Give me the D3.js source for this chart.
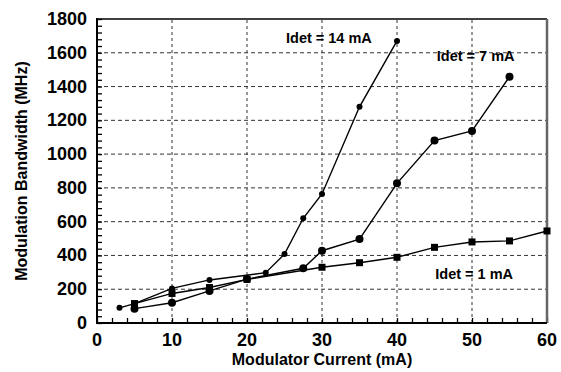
<!DOCTYPE html>
<html>
<head>
<meta charset="utf-8">
<script src="https://cdn.jsdelivr.net/npm/d3@7"></script>
<style>
  body { margin: 0; background: #fff; }
  svg { display: block; font-family: "Liberation Sans", Arial, sans-serif; }
  .tick-label { font-weight: bold; font-size: 18px; }
  .axis-title { font-weight: bold; font-size: 16px; }
  .series-label { font-weight: bold; font-size: 14.5px; }
</style>
</head>
<body>
<svg id="chart" width="561" height="372"></svg>
<script>
// Valori
const cur14 = [3, 5, 10, 15, 22.5, 25, 27.5, 30, 35, 40];
const bw14  = [90, 115, 205, 255, 298, 408, 620, 764, 1280, 1670];

const cur7  = [5, 10, 15, 20, 27.5, 30, 35, 40, 45, 50, 55];
const bw7   = [85, 120, 190, 260, 324, 428, 497, 827, 1080, 1137, 1458];

const cur1  = [5, 10, 15, 20, 30, 35, 40, 45, 50, 55, 60];
const bw1   = [115, 175, 210, 258, 330, 357, 389, 448, 480, 486, 545];

const xTicks = [0, 10, 20, 30, 40, 50, 60];
const yTicks = [0, 200, 400, 600, 800, 1000, 1200, 1400, 1600, 1800];

const svg = d3.select("#chart");

const L = 97, R = 547, T = 19, B = 323;

const x = d3.scaleLinear().domain([0, 60]).range([L, R]);
const y = d3.scaleLinear().domain([0, 1800]).range([B, T]);

/* ── GRIGLIA ───────────────────────────── */
const grid = svg.append("g");
grid.selectAll(".gx")
  .data(xTicks.filter(d => d > 0 && d < 60))
  .join("line")
  .attr("x1", d => x(d)).attr("x2", d => x(d))
  .attr("y1", B).attr("y2", T)
  .attr("stroke", "#333").attr("stroke-width", 1)
  .attr("stroke-dasharray", "3,3");
grid.selectAll(".gy")
  .data(yTicks.filter(d => d > 0 && d < 1800))
  .join("line")
  .attr("x1", L).attr("x2", R)
  .attr("y1", d => y(d)).attr("y2", d => y(d))
  .attr("stroke", "#333").attr("stroke-width", 1)
  .attr("stroke-dasharray", "4,3");

/* ── ASSI ──────────────────────────────── */
const xAxis = d3.axisBottom(x).tickValues(d3.range(0, 61, 2))
  .tickSize(-5).tickFormat("");
svg.append("g").attr("transform", `translate(0,${B})`).call(xAxis)
  .call(g => g.select(".domain").remove())
  .call(g => g.selectAll("line").attr("stroke", "#000").attr("stroke-width", 1.3));

const yAxis = d3.axisLeft(y).tickValues(d3.range(0, 1801, 40))
  .tickSize(-5).tickFormat("");
svg.append("g").attr("transform", `translate(${L},0)`).call(yAxis)
  .call(g => g.select(".domain").remove())
  .call(g => g.selectAll("line").attr("stroke", "#000").attr("stroke-width", 1.3));

// cornice
svg.append("line").attr("x1", L).attr("x2", R).attr("y1", T).attr("y2", T)
  .attr("stroke", "#000").attr("stroke-width", 1.5);
svg.append("line").attr("x1", R).attr("x2", R).attr("y1", T).attr("y2", B)
  .attr("stroke", "#666").attr("stroke-width", 2.5);
svg.append("line").attr("x1", L).attr("x2", L).attr("y1", T - 1).attr("y2", B + 1)
  .attr("stroke", "#000").attr("stroke-width", 2);
svg.append("line").attr("x1", L - 1).attr("x2", R).attr("y1", B).attr("y2", B)
  .attr("stroke", "#000").attr("stroke-width", 2);

// etichette dei tick
svg.selectAll(".xl").data(xTicks).join("text")
  .attr("class", "tick-label")
  .attr("x", d => x(d)).attr("y", B + 23)
  .attr("text-anchor", "middle")
  .text(d => d);
svg.selectAll(".yl").data(yTicks).join("text")
  .attr("class", "tick-label")
  .attr("x", L - 10).attr("y", d => y(d) + 6)
  .attr("text-anchor", "end")
  .text(d => d);

svg.append("text").attr("class", "axis-title")
  .attr("x", (L + R) / 2).attr("y", 365)
  .attr("text-anchor", "middle")
  .text("Modulator Current (mA)");
svg.append("text").attr("class", "axis-title")
  .attr("transform", `translate(27,${(T + B) / 2}) rotate(-90)`)
  .attr("text-anchor", "middle")
  .text("Modulation Bandwidth (MHz)");

/* ── SERIE ─────────────────────────────── */
const line = d3.line().x(d => x(d[0])).y(d => y(d[1]));

function serie(cur, bw, marker) {
  const pts = cur.map((c, i) => [c, bw[i]]);
  svg.append("path").datum(pts)
    .attr("d", line)
    .attr("fill", "none").attr("stroke", "#000").attr("stroke-width", 1.4);
  const g = svg.append("g");
  if (marker === "square") {
    g.selectAll("rect").data(pts).join("rect")
      .attr("x", d => x(d[0]) - 3.5).attr("y", d => y(d[1]) - 3.5)
      .attr("width", 7).attr("height", 7).attr("fill", "#000");
  } else {
    g.selectAll("circle").data(pts).join("circle")
      .attr("cx", d => x(d[0])).attr("cy", d => y(d[1]))
      .attr("r", marker === "big" ? 4 : 3).attr("fill", "#000");
  }
}

serie(cur1, bw1, "square");
serie(cur7, bw7, "big");
serie(cur14, bw14, "small");

/* ── ETICHETTE ─────────────────────────── */
svg.append("text").attr("class", "series-label")
  .attr("x", x(25.2)).attr("y", y(1685) + 5).text("Idet = 14 mA");
svg.append("text").attr("class", "series-label")
  .attr("x", x(45.3)).attr("y", y(1580) + 5).text("Idet = 7 mA");
svg.append("text").attr("class", "series-label")
  .attr("x", x(45.1)).attr("y", y(290) + 5).text("Idet = 1 mA");
</script>
</body>
</html>
